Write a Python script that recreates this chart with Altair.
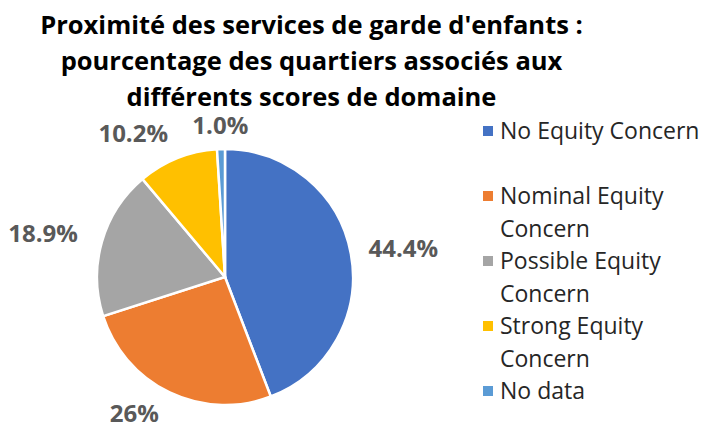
import altair as alt
import pandas as pd

categories = ["No Equity Concern", "Nominal Equity Concern", "Possible Equity Concern",
              "Strong Equity Concern", "No data"]
values = [44.4, 26, 18.9, 10.2, 1.0]
value_labels = ["44.4%", "26%", "18.9%", "10.2%", "1.0%"]
legend_labels = ["No Equity Concern", "Nominal Equity|Concern", "Possible Equity|Concern",
                 "Strong Equity|Concern", "No data"]
colors = ["#4472C4", "#ED7D31", "#A5A5A5", "#FFC000", "#5B9BD5"]
title_lines = ["Proximité des services de garde d'enfants :",
               "pourcentage des quartiers associés aux",
               "différents scores de domaine"]

df = pd.DataFrame({
    "category": categories,
    "value": values,
    "label": value_labels,
    "legend": legend_labels,
    "order": list(range(len(categories))),
})

TOP = 98
W, H = 697, 330
CX, CY = 217, 277 - 8 - TOP
R = 128
FONT = "Open Sans"

base = alt.Chart(df)
color = alt.Color("category:N", scale=alt.Scale(domain=categories, range=colors), legend=None)

pie = base.mark_arc(outerRadius=R, stroke="white", strokeWidth=2.5).encode(
    theta=alt.Theta("value:Q", stack=True),
    order=alt.Order("order:Q"),
    color=color,
    x=alt.value(CX),
    y=alt.value(CY),
)

# mid-angle fraction of each slice, used to choose the label's side
lab_base = base.transform_joinaggregate(
    total="sum(value)"
).transform_window(
    cum="sum(value)", sort=[alt.SortField("order")], frame=[None, 0]
).transform_calculate(
    f="(datum.cum - datum.value / 2) / datum.total"
)


def label_layer(test, align, radius):
    return lab_base.mark_text(radius=radius, align=align, baseline="middle", font=FONT,
                              fontSize=24, fontWeight="bold", color="#595959").encode(
        theta=alt.Theta("value:Q", stack=True),
        order=alt.Order("order:Q"),
        text=alt.condition(test, alt.Text("label:N"), alt.value("")),
        x=alt.value(CX),
        y=alt.value(CY),
    )


lab_right = label_layer("datum.f < 0.5", "left", 146)
lab_left = label_layer("datum.f >= 0.5 && datum.f < 0.97", "right", 153)
lab_top = label_layer("datum.f >= 0.97", "center", 150)

leg_y = alt.Y("category:N", sort=categories, axis=None,
              scale=alt.Scale(range=[131 - 8 - TOP, 391 - 8 - TOP], padding=0))

leg_sq = base.mark_square(size=100, opacity=1).encode(
    x=alt.value(488 - 8),
    y=leg_y,
    color=color,
)

leg_txt = base.mark_text(align="left", baseline="alphabetic", dy=8, lineBreak="|",
                         lineHeight=32.5, font=FONT, fontSize=23, color="#262626").encode(
    x=alt.value(500 - 8),
    y=leg_y,
    text="legend:N",
)

chart = alt.layer(pie, lab_right, lab_left, lab_top, leg_sq, leg_txt).properties(
    width=W,
    height=H,
    padding={"left": 0, "top": TOP, "right": 0, "bottom": 0},
    autosize=alt.AutoSizeParams(type="none"),
    title=alt.TitleParams(title_lines, font=FONT, fontSize=25.5, fontWeight="bold",
                          lineHeight=36, dx=-45, dy=5, offset=0, color="black",
                          anchor="middle"),
).configure_view(stroke=None)

chart.save("out.html", embed_options={"renderer": "svg", "actions": False})
